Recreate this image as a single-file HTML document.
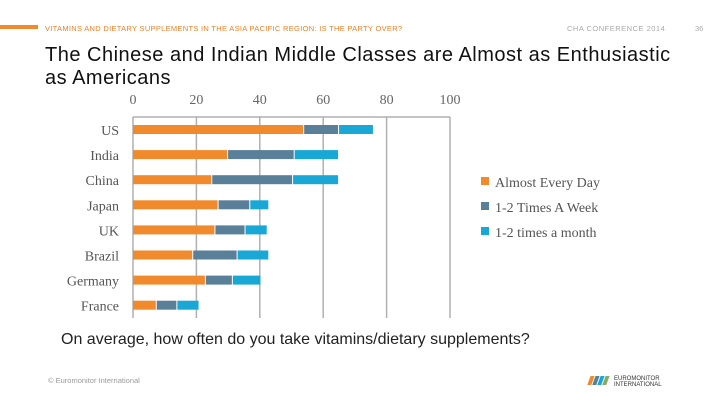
<!DOCTYPE html>
<html><head><meta charset="utf-8"><style>
body{margin:0;width:720px;height:405px;background:#fff;overflow:hidden;position:relative;font-family:"Liberation Sans",sans-serif}
.a{position:absolute;white-space:nowrap}
</style></head><body>
<div class="a" style="left:0;top:25px;width:38px;height:4px;background:#f08a2c"></div>
<div class="a" style="left:45px;top:24px;font-size:7.5px;color:#e8822a;letter-spacing:0.3px">VITAMINS AND DIETARY SUPPLEMENTS IN THE ASIA PACIFIC REGION: IS THE PARTY OVER?</div>
<div class="a" style="left:567px;top:24px;font-size:7.5px;color:#aaa;letter-spacing:0.5px">CHA CONFERENCE 2014</div>
<div class="a" style="left:695px;top:24px;font-size:7.5px;color:#aaa">36</div>
<div class="a" style="left:45px;top:44px;font-size:20px;color:#111;line-height:23px;letter-spacing:0.5px">The Chinese and Indian Middle Classes are Almost as Enthusiastic<br>as Americans</div>
<svg class="a" style="left:0;top:0" width="720" height="405" id="chart"></svg>
<div class="a" style="left:61px;top:331px;font-size:16px;color:#222">On average, how often do you take vitamins/dietary supplements?</div>
<div class="a" style="left:48px;top:376px;font-size:7.5px;color:#999">© Euromonitor International</div>
<div class="a" style="left:584px;top:372px;width:110px;height:16px">
<svg width="110" height="16"><g transform="skewX(-20)"><rect x="8" y="4" width="4" height="9" fill="#f08a2c"/><rect x="13" y="4" width="4" height="9" fill="#5a7f99"/><rect x="18" y="4" width="4" height="9" fill="#19a7d6"/><rect x="23" y="4" width="4" height="9" fill="#8a6"/></g>
<text x="30" y="8" font-size="6" fill="#333" font-family="Liberation Sans">EUROMONITOR</text><text x="30" y="14" font-size="6" fill="#333" font-family="Liberation Sans">INTERNATIONAL</text></svg></div>
<script>
const categories=["US","India","China","Japan","UK","Brazil","Germany","France"];
const daily=[54,30,25,27,26,19,23,7.5];
const weekly=[11,21,25.5,10,9.5,14,8.5,6.5];
const monthly=[11,14,14.5,6,7,10,9,7];
const ticks=[0,20,40,60,80,100];
const seriesNames=["Almost Every Day","1-2 Times A Week","1-2 times a month"];
const colors=["#f08a2c","#5a7f99","#19a7d6"];
const svgEl=document.getElementById('chart');
const NS="http://www.w3.org/2000/svg";
const xs=v=>133+v*3.17;
const ys=i=>125+i*25.1;
function mk(t,a){const e=document.createElementNS(NS,t);for(const k in a)e.setAttribute(k,a[k]);svgEl.appendChild(e);return e;}
ticks.forEach(t=>{
 const l=mk('line',{x1:xs(t),x2:xs(t),y1:117,y2:318,stroke:'#b0b0b0','stroke-width':1.5});
 
 
 const tx=mk('text',{x:xs(t),y:104,'text-anchor':'middle','font-size':14,fill:'#666','font-family':'Liberation Serif'});
 tx.textContent=t;
 
 
});
const topLine=mk('line',{x1:xs(0),x2:xs(100),y1:117,y2:117,stroke:'#b0b0b0','stroke-width':1.5});


categories.forEach((c,i)=>{
 const lb=mk('text',{x:119,y:ys(i)+10,'text-anchor':'end','font-size':14,fill:'#555','font-family':'Liberation Serif'});
 lb.textContent=c;
 
 
 let s=0;
 [daily[i],weekly[i],monthly[i]].forEach((v,k)=>{
  const r=mk('rect',{x:xs(s),y:ys(i),width:Math.max(0,xs(s+v)-xs(s)-1),height:9,fill:colors[k]});
  
  
  s+=v;
 });
});
seriesNames.forEach((n,k)=>{
 const r=mk('rect',{x:481,y:177+k*25,width:8,height:8,fill:colors[k]});
 
 
 const t=mk('text',{x:495,y:187+k*25,'font-size':14,fill:'#555','font-family':'Liberation Serif'});
 t.textContent=n;
 
 
});
</script>
</body></html>
